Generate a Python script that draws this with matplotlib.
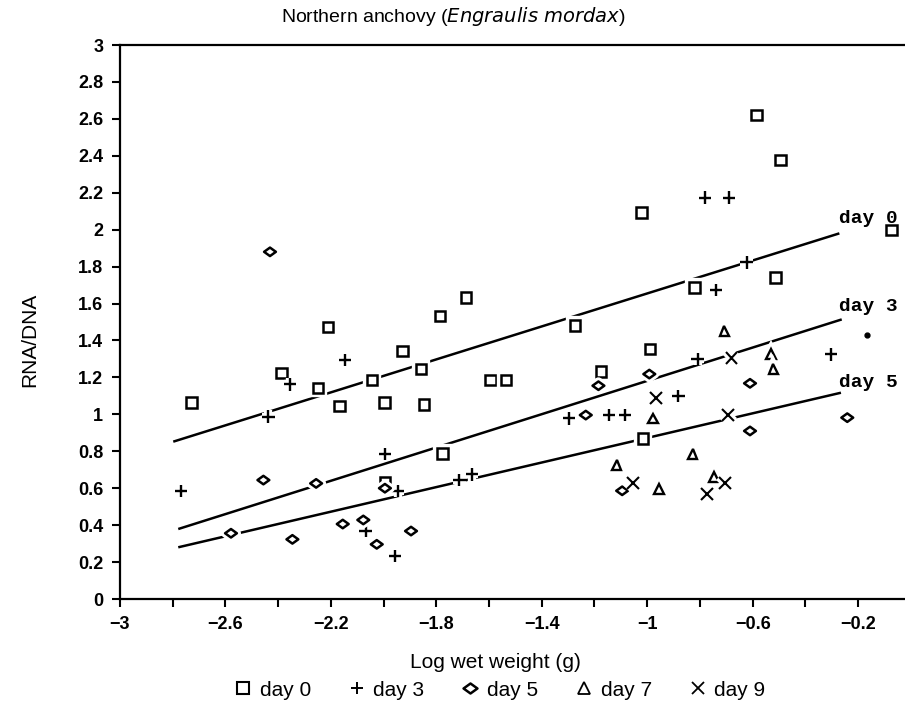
import matplotlib
matplotlib.use("Agg")
import matplotlib.pyplot as plt
import matplotlib.patheffects as pe
from matplotlib.path import Path
from matplotlib.lines import Line2D
import numpy as np

# ---------------- data ----------------
day0_x = [-2.728, -2.387, -2.248, -2.210, -2.168, -2.045, -1.997, -1.995, -1.928, -1.858,
          -1.846, -1.786, -1.776, -1.687, -1.594, -1.536, -1.274, -1.175, -1.021, -1.015,
          -0.989, -0.821, -0.585, -0.513, -0.494, -0.073]
day0_y = [1.065, 1.225, 1.144, 1.474, 1.045, 1.186, 1.065, 0.630, 1.344, 1.245,
          1.054, 1.534, 0.789, 1.633, 1.186, 1.186, 1.480, 1.231, 2.094, 0.870,
          1.354, 1.686, 2.620, 1.742, 2.377, 1.998]

day3_x = [-2.769, -2.437, -2.355, -2.146, -2.068, -1.995, -1.957, -1.947, -1.713, -1.664,
          -1.296, -1.145, -1.084, -0.882, -0.809, -0.781, -0.739, -0.689, -0.623, -0.303]
day3_y = [0.586, 0.987, 1.162, 1.294, 0.368, 0.785, 0.234, 0.586, 0.644, 0.675,
          0.978, 0.996, 0.996, 1.099, 1.299, 2.173, 1.673, 2.173, 1.823, 1.325]

day5_x = [-2.579, -2.456, -2.431, -2.346, -2.256, -2.155, -2.077, -2.026, -1.995, -1.896,
          -1.233, -1.185, -1.095, -0.992, -0.610, -0.610, -0.241]
day5_y = [0.356, 0.644, 1.880, 0.323, 0.626, 0.406, 0.428, 0.296, 0.600, 0.368,
          0.996, 1.155, 0.586, 1.218, 1.168, 0.910, 0.982]

day7_x = [-1.116, -0.977, -0.954, -0.828, -0.747, -0.707, -0.530, -0.521]
day7_y = [0.725, 0.978, 0.594, 0.785, 0.662, 1.451, 1.325, 1.245]

day9_x = [-1.053, -0.967, -0.774, -0.705, -0.692, -0.680]
day9_y = [0.630, 1.087, 0.567, 0.626, 0.996, 1.303]

dot_x = [-0.168]
dot_y = [1.429]

# fitted regression lines (start / end)
fit_labels = ["day 0", "day 3", "day 5"]
fit_x = [[-2.798, -0.271], [-2.779, -0.262], [-2.779, -0.265]]
fit_y = [[0.852, 1.980], [0.379, 1.514], [0.280, 1.117]]
fit_label_x = [-0.162, -0.162, -0.160]
fit_label_y = [2.063, 1.586, 1.175]

legend_labels = ["day 0", "day 3", "day 5", "day 7", "day 9"]
x_ticks = [-3, -2.8, -2.6, -2.4, -2.2, -2.0, -1.8, -1.6, -1.4, -1.2, -1.0, -0.8, -0.6, -0.4, -0.2]
x_ticklabels = ["\u22123", "", "\u22122.6", "", "\u22122.2", "", "\u22121.8", "", "\u22121.4", "",
                "\u22121", "", "\u22120.6", "", "\u22120.2"]
y_ticks = [0, 0.2, 0.4, 0.6, 0.8, 1, 1.2, 1.4, 1.6, 1.8, 2, 2.2, 2.4, 2.6, 2.8, 3]
y_ticklabels = ["0", "0.2", "0.4", "0.6", "0.8", "1", "1.2", "1.4", "1.6", "1.8",
                "2", "2.2", "2.4", "2.6", "2.8", "3"]

# ---------------- figure ----------------
plt.rcParams['font.family'] = ['Liberation Sans', 'DejaVu Sans']
fig = plt.figure(figsize=(9.05, 7.10), dpi=100)
ax = fig.add_axes([120/905, 111/710, 785/905, 554/710])

flat_diamond = Path([(-1, 0), (0, 0.72), (1, 0), (0, -0.72), (-1, 0)],
                    [Path.MOVETO, Path.LINETO, Path.LINETO, Path.LINETO, Path.CLOSEPOLY])

halo = [pe.withStroke(linewidth=6, foreground='white')]

for xs, ys in zip(fit_x, fit_y):
    ax.plot(xs, ys, color='black', lw=1.8, zorder=2, solid_capstyle='butt')

common = dict(linestyle='none', color='black', zorder=3)
ax.plot(day0_x, day0_y, marker='s', ms=7.5, mfc='white', mew=1.8, path_effects=halo, **common)
ax.plot(day3_x, day3_y, marker='+', ms=9, mew=1.7, path_effects=halo, **common)
ax.plot(day5_x, day5_y, marker=flat_diamond, ms=8.5, mfc='white', mew=1.8, path_effects=halo, **common)
ax.plot(day7_x, day7_y, marker='^', ms=7, mfc='white', mew=1.7, path_effects=halo, **common)
ax.plot(day9_x, day9_y, marker='x', ms=8.5, mew=1.5, path_effects=halo, **common)
ax.plot(dot_x, dot_y, marker='o', ms=3.5, **common)

for lab, lx, ly in zip(fit_labels, fit_label_x, fit_label_y):
    ax.text(lx, ly, lab, family='Liberation Mono', fontsize=14, fontweight='bold',
            ha='center', va='center', zorder=4)

ax.set_xlim(-3, -0.022)
ax.set_ylim(0, 3)
ax.set_xticks(x_ticks)
ax.set_xticklabels(x_ticklabels, fontsize=13, fontweight='bold')
ax.set_yticks(y_ticks)
ax.set_yticklabels(y_ticklabels, fontsize=13, fontweight='bold')
ax.tick_params(axis='both', direction='out', length=6, width=1.5, pad=6)
for s in ['left', 'bottom', 'top']:
    ax.spines[s].set_linewidth(1.6)
ax.spines['right'].set_visible(False)

fig.text(453/905, 1 - 16/710, "Northern anchovy ($\\it{Engraulis\\ mordax}$)",
         ha='center', va='center', fontsize=14)

fig.text(30/905, 1 - 340/710, "RNA/DNA", rotation=90, ha='center', va='center', fontsize=15)
fig.text(495/905, 1 - 662/710, "Log wet weight (g)", ha='center', va='center', fontsize=15)

handles = [
    Line2D([], [], ls='none', marker='s', ms=9, mfc='white', mec='black', mew=1.5),
    Line2D([], [], ls='none', marker='+', ms=9, mec='black', mew=1.4),
    Line2D([], [], ls='none', marker=flat_diamond, ms=10, mfc='white', mec='black', mew=1.8),
    Line2D([], [], ls='none', marker='^', ms=8, mfc='white', mec='black', mew=1.3),
    Line2D([], [], ls='none', marker='x', ms=9, mec='black', mew=1.3),
]
fig.legend(handles, legend_labels, loc='center', bbox_to_anchor=(500/905, 1 - 690/710),
           ncol=5, frameon=False, fontsize=15, handlelength=0.8, handletextpad=0.4,
           columnspacing=1.8, borderpad=0)

fig.savefig("out.png", dpi=100)
